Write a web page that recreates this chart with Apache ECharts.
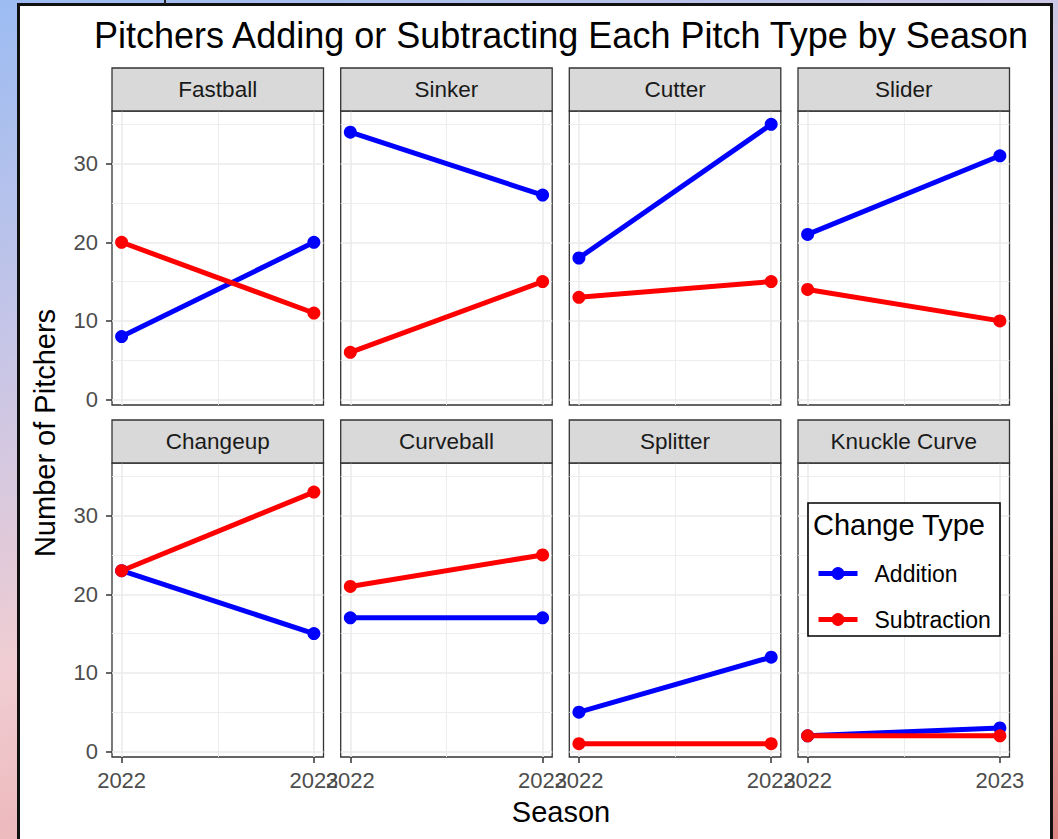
<!DOCTYPE html>
<html>
<head>
<meta charset="utf-8">
<script src="https://cdn.jsdelivr.net/npm/echarts@6/dist/echarts.min.js"></script>
<style>
  html, body { margin: 0; padding: 0; width: 1058px; height: 839px; overflow: hidden; }
  body { background: linear-gradient(160deg, #9cbcf2 0%, #c9c6e6 30%, #f0cdd2 55%, #eaa9ac 80%, #dc8686 100%); position: relative; }
  #sheet { position: absolute; left: 17px; top: 3px; width: 1036px; height: 900px; box-sizing: border-box;
           background: #fff; border: 3px solid #111; }
  #notch { position: absolute; left: 164px; top: 0; width: 1.5px; height: 4px; background: #222; }
  #chart { position: absolute; left: 0; top: 0; width: 1058px; height: 839px; }
</style>
</head>
<body>
<div id="sheet"></div>
<div id="notch"></div>
<div id="chart"></div>
<script>
// Pitch-type usage changes, 2022 vs 2023
const seasons = [2022, 2023];
const pitchTypes = ['Fastball', 'Sinker', 'Cutter', 'Slider', 'Changeup', 'Curveball', 'Splitter', 'Knuckle Curve'];
const additions = [[8, 20], [34, 26], [18, 35], [21, 31], [23, 15], [17, 17], [5, 12], [2, 3]];
const subtractions = [[20, 11], [6, 15], [13, 15], [14, 10], [23, 33], [21, 25], [1, 1], [2, 2]];
const yTicks = [0, 10, 20, 30];
const yMinor = [5, 15, 25, 35];
const xTicks = [2022, 2023];
const xMinor = [2022.5];

const FONT = "'Liberation Sans', Arial, Helvetica, sans-serif";
const ADD_COLOR = '#0000ff';
const SUB_COLOR = '#ff0000';

// facet layout
const colLeft = [112, 340.7, 569.3, 798];
const panelW = 211.5;
const rowTop = [111, 463];
const panelH = 294;
const stripH = 43;

const grids = [], xAxes = [], yAxes = [], series = [], graphics = [];

const major = { color: '#ebebeb', width: 1.6, type: 'solid' };
const minor = { color: '#ebebeb', width: 0.9, type: 'solid' };

pitchTypes.forEach((name, i) => {
  const row = Math.floor(i / 4), col = i % 4;
  const left = colLeft[col], top = rowTop[row];
  grids.push({ left: left, top: top, width: panelW, height: panelH, containLabel: false,
    show: true, borderColor: '#333', borderWidth: 1.3, backgroundColor: '#fff' });

  xAxes.push({
    gridIndex: i, type: 'value', min: 2021.95, max: 2023.05,
    axisLine: { show: false, onZero: false },
    splitLine: { show: false },
    axisTick: { show: row === 1, customValues: xTicks, length: 6, lineStyle: { color: '#333', width: 1.5 } },
    axisLabel: { show: row === 1, customValues: xTicks, fontSize: 22, fontFamily: FONT, color: '#4d4d4d',
      margin: 12, formatter: v => String(v) }
  });
  yAxes.push({
    gridIndex: i, type: 'value', min: -0.7, max: 36.7,
    axisLine: { show: false, onZero: false },
    splitLine: { show: false },
    axisTick: { show: col === 0, customValues: yTicks, length: 6, lineStyle: { color: '#333', width: 1.5 } },
    axisLabel: { show: col === 0, customValues: yTicks, fontSize: 22, fontFamily: FONT, color: '#4d4d4d', margin: 14 }
  });

  // panel grid lines, kept beneath the data
  series.push({
    type: 'line', xAxisIndex: i, yAxisIndex: i, data: [], z: 1, silent: true,
    markLine: {
      z: 1, silent: true, symbol: ['none', 'none'], animation: false, label: { show: false },
      emphasis: { disabled: true },
      data: [].concat(
        xMinor.map(v => ({ xAxis: v, lineStyle: minor })),
        yMinor.map(v => ({ yAxis: v, lineStyle: minor })),
        xTicks.map(v => ({ xAxis: v, lineStyle: major })),
        yTicks.map(v => ({ yAxis: v, lineStyle: major }))
      )
    }
  });

  const lineSeries = (label, values, color) => ({
    name: label, type: 'line', xAxisIndex: i, yAxisIndex: i, z: 3,
    data: seasons.map((s, k) => [s, values[k]]),
    symbol: 'circle', symbolSize: 13, showSymbol: true,
    itemStyle: { color: color, borderWidth: 0 }, lineStyle: { color: color, width: 5 },
    emphasis: { disabled: true }
  });
  series.push(lineSeries('Addition', additions[i], ADD_COLOR));
  series.push(lineSeries('Subtraction', subtractions[i], SUB_COLOR));

  // facet strip
  graphics.push({
    type: 'rect', z: 5,
    shape: { x: left, y: top - stripH, width: panelW, height: stripH },
    style: { fill: '#d9d9d9', stroke: '#333', lineWidth: 1.3 }
  });
  graphics.push({
    type: 'text', z: 6, x: left + panelW / 2, y: top - stripH / 2,
    style: { text: name, fontSize: 22.5, fontFamily: FONT, fill: '#1a1a1a', align: 'center', verticalAlign: 'middle' }
  });
});

// titles
graphics.push({
  type: 'text', z: 6, x: 561, y: 35,
  style: { text: 'Pitchers Adding or Subtracting Each Pitch Type by Season', fontSize: 36, fontFamily: FONT,
    fill: '#000', align: 'center', verticalAlign: 'middle' }
});
graphics.push({
  type: 'text', z: 6, x: 561, y: 812,
  style: { text: 'Season', fontSize: 29, fontFamily: FONT, fill: '#000', align: 'center', verticalAlign: 'middle' }
});
graphics.push({
  type: 'text', z: 6, x: 45, y: 433, rotation: Math.PI / 2,
  style: { text: 'Number of Pitchers', fontSize: 29, fontFamily: FONT, fill: '#000', align: 'center', verticalAlign: 'middle' }
});

// legend box and title
graphics.push({
  type: 'rect', z: 7,
  shape: { x: 808, y: 503, width: 192, height: 133 },
  style: { fill: '#fff', stroke: '#000', lineWidth: 1.6 }
});
graphics.push({
  type: 'text', z: 8, x: 813, y: 525,
  style: { text: 'Change Type', fontSize: 29, fontFamily: FONT, fill: '#000', align: 'left', verticalAlign: 'middle' }
});

const chart = echarts.init(document.getElementById('chart'), null, { renderer: 'svg' });
chart.setOption({
  animation: false,
  backgroundColor: 'transparent',
  grid: grids,
  xAxis: xAxes,
  yAxis: yAxes,
  series: series,
  graphic: graphics,
  legend: {
    data: ['Addition', 'Subtraction'], orient: 'vertical', left: 816, top: 562, z: 20,
    itemWidth: 39, itemHeight: 16, itemGap: 23, padding: 0, selectedMode: false,
    lineStyle: { width: 5 },
    textStyle: { fontSize: 23, fontFamily: FONT, color: '#000', padding: [0, 0, 0, 12] }
  }
});
</script>
</body>
</html>
